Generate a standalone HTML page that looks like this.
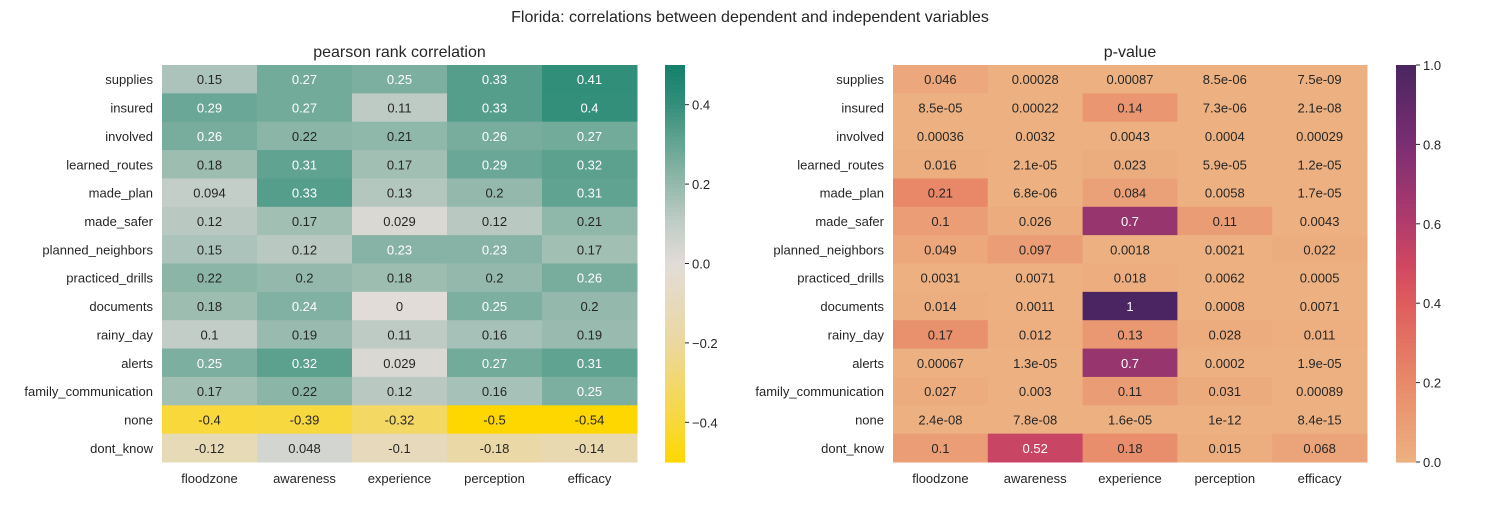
<!DOCTYPE html>
<html><head><meta charset="utf-8"><style>
body{margin:0;background:#fff;font-family:"Liberation Sans",Arial,sans-serif}
svg text{font-family:"Liberation Sans",Arial,sans-serif;fill:#262626}
</style></head><body>
<svg id="chart" width="1500" height="500" xmlns="http://www.w3.org/2000/svg">
<rect width="1500" height="500" fill="#fff"/>
<text x="750" y="22" text-anchor="middle" font-size="16">Florida: correlations between dependent and independent variables</text>
</svg>
<script>
const rows=["supplies","insured","involved","learned_routes","made_plan","made_safer","planned_neighbors","practiced_drills","documents","rainy_day","alerts","family_communication","none","dont_know"];
const cols=["floodzone","awareness","experience","perception","efficacy"];
const corr=[[0.15,0.27,0.25,0.33,0.41],[0.29,0.27,0.11,0.33,0.4],[0.26,0.22,0.21,0.26,0.27],[0.18,0.31,0.17,0.29,0.32],[0.094,0.33,0.13,0.2,0.31],[0.12,0.17,0.029,0.12,0.21],[0.15,0.12,0.23,0.23,0.17],[0.22,0.2,0.18,0.2,0.26],[0.18,0.24,0,0.25,0.2],[0.1,0.19,0.11,0.16,0.19],[0.25,0.32,0.029,0.27,0.31],[0.17,0.22,0.12,0.16,0.25],[-0.4,-0.39,-0.32,-0.5,-0.54],[-0.12,0.048,-0.1,-0.18,-0.14]];
const pvals=[["0.046","0.00028","0.00087","8.5e-06","7.5e-09"],["8.5e-05","0.00022","0.14","7.3e-06","2.1e-08"],["0.00036","0.0032","0.0043","0.0004","0.00029"],["0.016","2.1e-05","0.023","5.9e-05","1.2e-05"],["0.21","6.8e-06","0.084","0.0058","1.7e-05"],["0.1","0.026","0.7","0.11","0.0043"],["0.049","0.097","0.0018","0.0021","0.022"],["0.0031","0.0071","0.018","0.0062","0.0005"],["0.014","0.0011","1","0.0008","0.0071"],["0.17","0.012","0.13","0.028","0.011"],["0.00067","1.3e-05","0.7","0.0002","1.9e-05"],["0.027","0.003","0.11","0.031","0.00089"],["2.4e-08","7.8e-08","1.6e-05","1e-12","8.4e-15"],["0.1","0.52","0.18","0.015","0.068"]];
const corrTicks=[-0.4,-0.2,0.0,0.2,0.4];
const pTicks=[0.0,0.2,0.4,0.6,0.8,1.0];

const NS="http://www.w3.org/2000/svg";
const svg=document.getElementById("chart");
function mk(tag,attrs,parent){const e=document.createElementNS(NS,tag);for(const k in attrs)e.setAttribute(k,attrs[k]);(parent||svg).appendChild(e);return e;}
function hex(h){return [parseInt(h.slice(1,3),16),parseInt(h.slice(3,5),16),parseInt(h.slice(5,7),16)];}
function cmap(stops,t){t=Math.max(0,Math.min(1,t));for(let i=1;i<stops.length;i++){if(t<=stops[i][0]){const a=stops[i-1],b=stops[i];const f=(t-a[0])/(b[0]-a[0]);const ca=hex(a[1]),cb=hex(b[1]);return ca.map((v,j)=>Math.round(v+(cb[j]-v)*f));}}return hex(stops[stops.length-1][1]);}
const leftStops=[[0,"#ffd700"],[0.1,"#f8d83a"],[0.3,"#ebd8a0"],[0.5,"#e2dcd8"],[0.6,"#c2cdc7"],[0.7,"#94b9ac"],[0.8,"#65a593"],[0.9,"#348f7a"],[1,"#138069"]];
const rightStops=[[0,"#edb181"],[0.2,"#e88a6a"],[0.4,"#de5d5c"],[0.5,"#cd4762"],[0.6,"#b23c6b"],[0.8,"#7b2e73"],[1,"#4a2561"]];
function rgb(c){return `rgb(${c[0]},${c[1]},${c[2]})`;}
function lum(c){const l=c.map(v=>{v/=255;return v<=0.03928?v/12.92:Math.pow((v+0.055)/1.055,2.4);});return 0.2126*l[0]+0.7152*l[1]+0.0722*l[2];}

const yTop=65,yBot=462,rh=(yBot-yTop)/rows.length;
function heat(x0,x1,vals,label,stops,vmin,vmax,title,gname,cbx,ticks,fmt,thr){
  const g=mk("g",{});
  
  
  const cw=(x1-x0)/cols.length;
  const t=mk("text",{x:(x0+x1)/2,y:57,"text-anchor":"middle","font-size":"16"},g);t.textContent=title;
  
  
  rows.forEach((r,i)=>{
    const yl=mk("text",{x:x0-9,y:yTop+rh*(i+0.5)+5,"text-anchor":"end","font-size":"13"},g);yl.textContent=r;
    
    
    cols.forEach((c,j)=>{
      const v=vals[i][j];const num=parseFloat(v);
      const col=cmap(stops,(num-vmin)/(vmax-vmin));
      const rc=mk("rect",{x:x0+cw*j,y:yTop+rh*i,width:cw+0.5,height:rh+0.5,fill:rgb(col)},g);
      
      
      const tx=mk("text",{x:x0+cw*(j+0.5),y:yTop+rh*(i+0.5)+5,"text-anchor":"middle","font-size":"13"},g);
      tx.textContent=label(v);
      tx.style.fill=lum(col)>thr?"#262626":"#ffffff";
      
      
    });
  });
  cols.forEach((c,j)=>{
    const xl=mk("text",{x:x0+cw*(j+0.5),y:483,"text-anchor":"middle","font-size":"13"},g);xl.textContent=c;
    
    
  });
  const N=100,h=(yBot-yTop)/N;
  for(let k=0;k<N;k++){
    const col=cmap(stops,1-(k+0.5)/N);
    const r=mk("rect",{x:cbx,y:yTop+h*k,width:20,height:h+0.6,fill:rgb(col)},g);
    
    
  }
  ticks.forEach(tv=>{
    const y=yBot-(tv-vmin)/(vmax-vmin)*(yBot-yTop);
    const ln=mk("line",{x1:cbx+20,x2:cbx+24,y1:y,y2:y,stroke:"#262626","stroke-width":"1"},g);
    
    
    const tt=mk("text",{x:cbx+27,y:y+5,"font-size":"13"},g);tt.textContent=fmt(tv);
    
    
  });
}
heat(162,637,corr,v=>String(v),leftStops,-0.5,0.5,"pearson rank correlation","correlation-heatmap",665,corrTicks,v=>(v<0?"\u2212":"")+Math.abs(v).toFixed(1),0.408);
heat(893,1367,pvals,v=>v,rightStops,0,1,"p-value","pvalue-heatmap",1396,pTicks,v=>v.toFixed(1),0.25);
</script>
</body></html>
